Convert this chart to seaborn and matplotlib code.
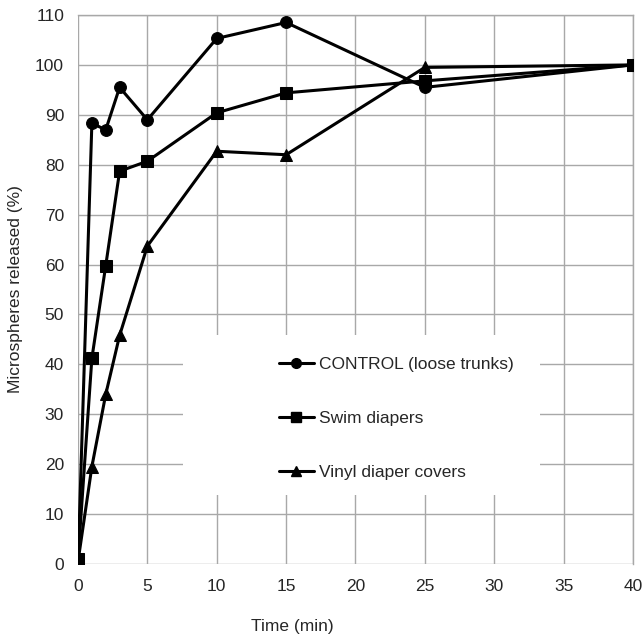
"""
Microsphere release over time for three diaper conditions
"""
import pandas as pd
import matplotlib
matplotlib.use('Agg')
import matplotlib.pyplot as plt
import seaborn as sns
from matplotlib.patches import Rectangle

# data
time_min = [0, 1, 2, 3, 5, 10, 15, 25, 40]
control = [0, 88.3, 87.0, 95.5, 89.0, 105.3, 108.5, 95.5, 100]
swim = [1.0, 41.2, 59.8, 78.7, 80.7, 90.4, 94.4, 96.8, 100]
vinyl = [0.5, 19.5, 34.0, 45.8, 63.7, 82.7, 82.0, 99.5, 100]
series_names = ["CONTROL (loose trunks)", "Swim diapers", "Vinyl diaper covers"]
x_ticks = list(range(0, 45, 5))
y_ticks = list(range(0, 120, 10))

df = pd.concat([
    pd.DataFrame({"Time": time_min, "Released": vals, "Series": name})
    for name, vals in zip(series_names, [control, swim, vinyl])
])

sns.set_style("white")
plt.rcParams['font.family'] = ['Liberation Sans', 'DejaVu Sans']
FS = 12.5

fig = plt.figure(figsize=(6.43, 6.38), dpi=100)
ax = fig.add_axes([0.1213, 0.116, 0.8631, 0.8605])

sns.lineplot(data=df, x="Time", y="Released", style="Series",
             markers={series_names[0]: 'o', series_names[1]: 's', series_names[2]: '^'},
             dashes=False, color='black', linewidth=2.2, markersize=8.5,
             markeredgecolor='black', ax=ax, legend=False, zorder=3)

ax.set_xlim(0, 40)
ax.set_ylim(0, 110)
ax.set_xticks(x_ticks)
ax.set_yticks(y_ticks)
ax.grid(True, color='#a8a8a8', linewidth=1.0)
ax.set_axisbelow(True)
for side in ['left', 'bottom']:
    ax.spines[side].set_visible(False)
for side in ['top', 'right']:
    ax.spines[side].set_color('#a8a8a8')
    ax.spines[side].set_linewidth(1.0)
ax.tick_params(axis='both', length=0, labelsize=FS)
ax.tick_params(axis='x', pad=11)
ax.tick_params(axis='y', pad=10)
ax.set_xlabel("Time (min)", fontsize=FS)
ax.xaxis.set_label_coords(0.386, -0.100)
ax.set_ylabel("Microspheres released (%)", fontsize=FS, labelpad=9)

# blank area behind the legend (covers gridlines like the original)
ax.add_patch(Rectangle((0.189, 0.126), 0.643, 0.291, transform=ax.transAxes,
                       facecolor='white', edgecolor='none', zorder=1.5))

handles = [plt.Line2D([], [], color='black', marker=m, linewidth=2.2, markersize=7)
           for m in ['o', 's', '^']]
ax.legend(handles, series_names, loc='upper left', bbox_to_anchor=(0.362, 0.378),
          frameon=False, fontsize=FS, handlelength=2.0, handletextpad=0.3,
          labelspacing=2.25, borderpad=0, borderaxespad=0)

fig.savefig("out.png", dpi=100)
